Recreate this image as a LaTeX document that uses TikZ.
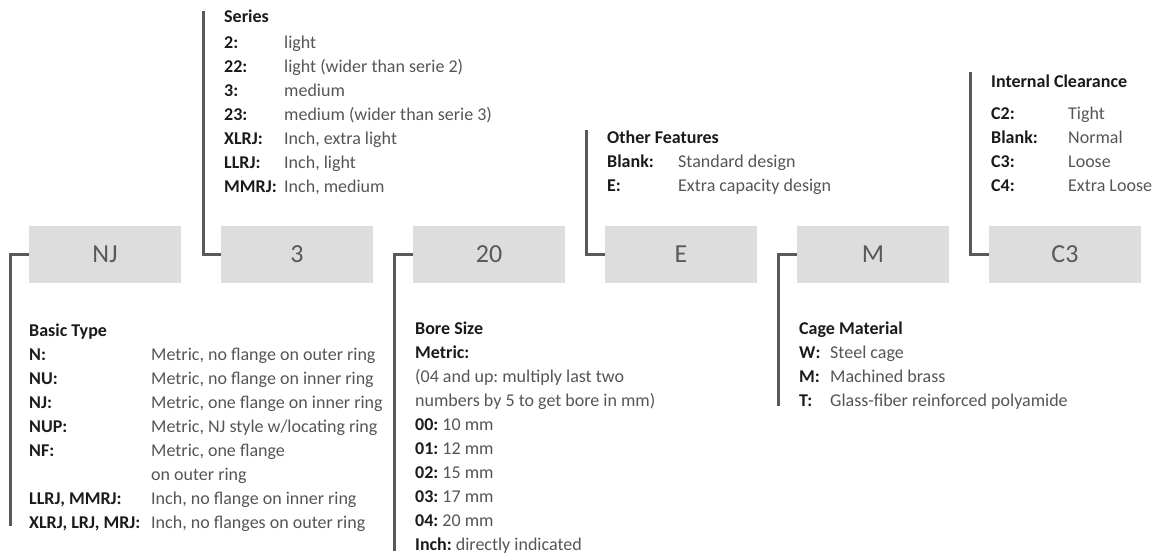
\documentclass[tikz,border=0pt]{standalone}
\usepackage{fontspec}
\setmainfont{Carlito}
\definecolor{boxfill}{HTML}{DCDDDC}
\definecolor{linec}{HTML}{58595B}
\definecolor{labc}{HTML}{1A1A1A}
\definecolor{valc}{HTML}{555555}
\newcommand\lab[1]{\textcolor{labc}{\textbf{#1}}}
\newcommand\row[3]{\makebox[#1][l]{\lab{#2}}#3}
\frenchspacing
\begin{document}
\begin{tikzpicture}[x=1pt,y=-1pt,
  codebox/.style={fill=boxfill, minimum width=152pt, minimum height=57pt, inner sep=0pt, text=linec, font=\fontsize{26}{30}\selectfont},
  conn/.style={draw=linec, line width=3pt},
  infoblock/.style={anchor=base west, inner sep=0pt, text=valc, font=\fontsize{18}{24}\selectfont}]
\useasboundingbox (0,0) rectangle (1156,558);

% code boxes
\node[codebox] (nj)   at (105,254.5) {NJ};
\node[codebox] (s3)   at (297,254.5) {3};
\node[codebox] (bore) at (489,254.5) {20};
\node[codebox] (fe)   at (681,254.5) {E};
\node[codebox] (cage) at (873,254.5) {M};
\node[codebox] (clr)  at (1065,254.5) {C3};

% connector ends
\coordinate (njend)   at (10,526);
\coordinate (s3end)   at (203,11);
\coordinate (boreend) at (394,551);
\coordinate (feend)   at (586,130);
\coordinate (cageend) at (778,406);
\coordinate (clrend)  at (970,72);

\draw[conn] (nj.west)   -| (njend);
\draw[conn] (s3.west)   -| (s3end);
\draw[conn] (bore.west) -| (boreend);
\draw[conn] (fe.west)   -| (feend);
\draw[conn] (cage.west) -| (cageend);
\draw[conn] (clr.west)  -| (clrend);

% Series
\node[infoblock] (series) at (224,22) {\begin{tabular}[t]{@{}l@{}}
\lab{Series}\\[2pt]
\row{60pt}{2:}{light}\\
\row{60pt}{22:}{light (wider than serie 2)}\\
\row{60pt}{3:}{medium}\\
\row{60pt}{23:}{medium (wider than serie 3)}\\
\row{60pt}{XLRJ:}{Inch, extra light}\\
\row{60pt}{LLRJ:}{Inch, light}\\
\row{60pt}{MMRJ:}{Inch, medium}
\end{tabular}};

% Other Features
\node[infoblock] (feat) at (607,143) {\begin{tabular}[t]{@{}l@{}}
\lab{Other Features}\\
\row{71pt}{Blank:}{Standard design}\\
\row{71pt}{E:}{Extra capacity design}
\end{tabular}};

% Internal Clearance
\node[infoblock] (clear) at (991,87) {\begin{tabular}[t]{@{}l@{}}
\lab{Internal Clearance}\\[8pt]
\row{77pt}{C2:}{Tight}\\
\row{77pt}{Blank:}{Normal}\\
\row{77pt}{C3:}{Loose}\\
\row{77pt}{C4:}{Extra Loose}
\end{tabular}};

% Basic Type
\node[infoblock] (basic) at (29,336) {\begin{tabular}[t]{@{}l@{}}
\lab{Basic Type}\\
\row{122pt}{N:}{Metric, no flange on outer ring}\\
\row{122pt}{NU:}{Metric, no flange on inner ring}\\
\row{122pt}{NJ:}{Metric, one flange on inner ring}\\
\row{122pt}{NUP:}{Metric, NJ style w/locating ring}\\
\row{122pt}{NF:}{Metric, one flange}\\
\row{122pt}{}{on outer ring}\\
\row{122pt}{LLRJ, MMRJ:}{Inch, no flange on inner ring}\\
\row{122pt}{XLRJ, LRJ, MRJ:}{Inch, no flanges on outer ring}
\end{tabular}};

% Bore Size
\node[infoblock] (boretxt) at (415,334) {\begin{tabular}[t]{@{}l@{}}
\lab{Bore Size}\\
\lab{Metric:}\\
(04 and up: multiply last two\\
numbers by 5 to get bore in mm)\\
\lab{00:} 10 mm\\
\lab{01:} 12 mm\\
\lab{02:} 15 mm\\
\lab{03:} 17 mm\\
\lab{04:} 20 mm\\
\lab{Inch:} directly indicated
\end{tabular}};

% Cage Material
\node[infoblock] (cagetxt) at (799,334) {\begin{tabular}[t]{@{}l@{}}
\lab{Cage Material}\\
\row{31pt}{W:}{Steel cage}\\
\row{31pt}{M:}{Machined brass}\\
\row{31pt}{T:}{Glass-fiber reinforced polyamide}
\end{tabular}};
\end{tikzpicture}
\end{document}
